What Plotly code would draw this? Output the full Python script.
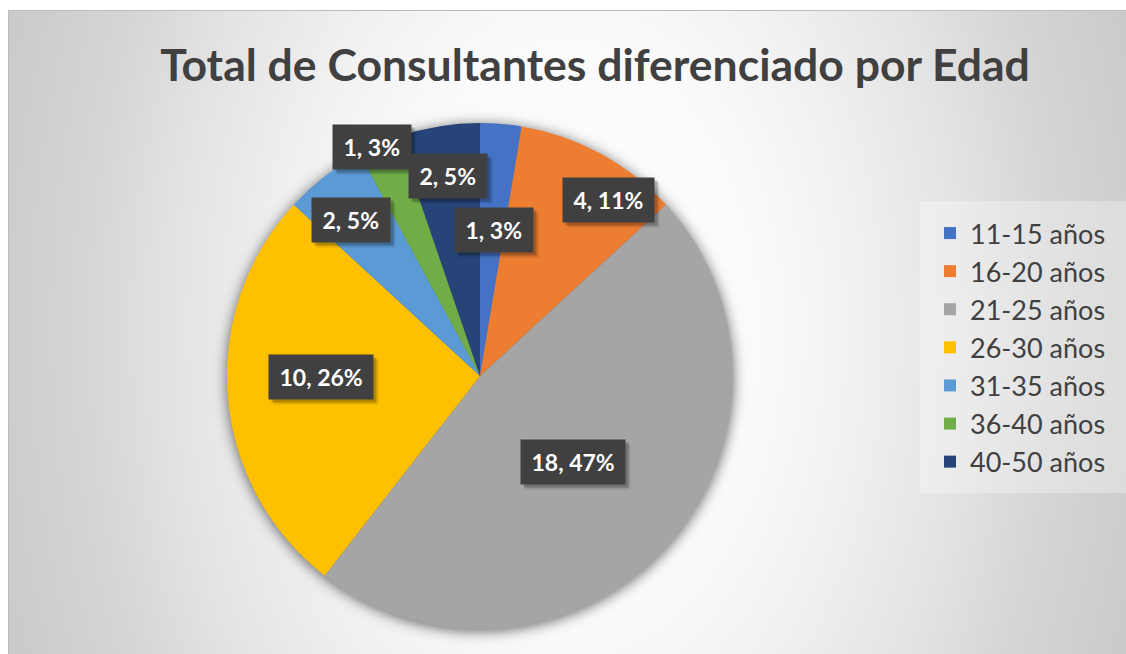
import base64
import math
import plotly.graph_objects as go

# ---------------- data ----------------
categories = ["11-15 años", "16-20 años", "21-25 años", "26-30 años",
              "31-35 años", "36-40 años", "40-50 años"]
counts = [1, 4, 18, 10, 2, 1, 2]
title_text = "Total de Consultantes diferenciado por Edad"

# ---------------- style ----------------
colors = ["#4472C4", "#ED7D31", "#A5A5A5", "#FFC000",
          "#5B9BD5", "#70AD47", "#264478"]
# data-label placement: fraction of radius and angular nudge (deg) from slice middle
label_radius = [0.58, 0.86, 0.50, 0.63, 0.80, 1.00, 0.80]
label_nudge = [0.8, 7.8, 0.2, 4.3, -1.8, -1.5, 0.5]

W, H = 1126, 654          # figure size = browser window (page margin removed)
CX, CY, R = 480, 376, 253 # pie centre / radius in pixels
TEXT = "#404040"
LBL_SIZE = 23


def xp(px):
    return px / W


def yp(py):
    return 1 - py / H


def text_width(s, size):
    em = {",": 0.25, " ": 0.2, "%": 0.85}
    return sum(em.get(ch, 0.58) for ch in s) * size


# ---------------- background (radial gradient, border, pie shadow, legend box) ----------------
gx, gy, grx, gry = 570, 330, 650, 1000
stops = [(0.0, 255), (0.3, 250), (0.45, 240), (0.6, 228),
         (0.75, 213), (0.9, 203), (1.0, 198)]
stop_xml = "".join(
    f'<stop offset="{o}" stop-color="rgb({c},{c},{c})"/>' for o, c in stops)
svg = f'''<svg xmlns="http://www.w3.org/2000/svg" width="{W}" height="{H}" viewBox="0 0 {W} {H}">
<defs>
<radialGradient id="bg" gradientUnits="userSpaceOnUse" cx="{gx}" cy="{gy}" r="{grx}"
 gradientTransform="translate({gx} {gy}) scale(1 {gry/grx:.4f}) translate({-gx} {-gy})">{stop_xml}</radialGradient>
<filter id="sh" x="-30%" y="-30%" width="160%" height="160%"><feGaussianBlur stdDeviation="7"/></filter>
</defs>
<rect x="0" y="0" width="{W}" height="{H}" fill="#ffffff"/>
<rect x="8.5" y="10.5" width="{W + 10}" height="{H + 10}" fill="url(#bg)" stroke="#bdbdbd" stroke-width="1"/>
<circle cx="{CX}" cy="{CY + 2}" r="{R}" fill="#000000" fill-opacity="0.6" filter="url(#sh)"/>
<rect x="920" y="201" width="{W}" height="292" fill="#ffffff" fill-opacity="0.3"/>
</svg>'''
bg_src = "data:image/svg+xml;base64," + base64.b64encode(svg.encode("utf-8")).decode("ascii")

# ---------------- figure ----------------
fig = go.Figure()
fig.add_trace(go.Pie(
    labels=categories,
    values=counts,
    sort=False,
    direction="clockwise",
    rotation=0,
    marker=dict(colors=colors, line=dict(width=0)),
    textinfo="none",
    hovertemplate="%{label}: %{value} (%{percent})<extra></extra>",
    domain=dict(x=[xp(CX - R), xp(CX + R)],
                y=[yp(CY + R), yp(CY - R)]),
))

# data labels (boxes with soft shadow)
annotations = []
total = sum(counts)
cum = 0
for i, v in enumerate(counts):
    mid = (cum + v / 2) / total * 360
    cum += v
    th = math.radians(mid + label_nudge[i])
    r = label_radius[i] * R
    px = CX + r * math.sin(th)
    py = CY - r * math.cos(th)
    txt = f"{v}, {round(100 * v / total)}%"
    bw = text_width(txt, LBL_SIZE) + 5
    for shift, alpha in [(5, 0.10), (3, 0.22)]:
        annotations.append(dict(
            x=xp(px), y=yp(py), xref="paper", yref="paper",
            text="\u00a0", showarrow=False, xanchor="center", yanchor="middle",
            width=bw,
            font=dict(family="Lato", size=LBL_SIZE, color="rgba(0,0,0,0)", weight="bold"),
            bgcolor=f"rgba(0,0,0,{alpha})", borderpad=8,
            xshift=shift, yshift=-shift))
    annotations.append(dict(
        x=xp(px), y=yp(py), xref="paper", yref="paper",
        text=txt, showarrow=False, xanchor="center", yanchor="middle",
        width=bw, align="center",
        font=dict(family="Lato", size=LBL_SIZE, color="#ffffff", weight="bold"),
        bgcolor="#404040", borderpad=8))

fig.update_layout(
    width=W, height=H,
    margin=dict(l=0, r=0, t=0, b=0),
    paper_bgcolor="#ffffff",
    images=[dict(source=bg_src, xref="paper", yref="paper", x=0, y=1,
                 sizex=1, sizey=1, xanchor="left", yanchor="top",
                 sizing="stretch", layer="below")],
    title=dict(text=title_text, x=xp(595), xanchor="center",
               y=yp(65.5), yanchor="middle",
               font=dict(family="Lato", size=44.5, color=TEXT, weight="bold")),
    showlegend=True,
    legend=dict(x=xp(930), xanchor="left", y=yp(209), yanchor="top",
                bgcolor="rgba(0,0,0,0)", borderwidth=0,
                font=dict(family="Lato", size=27, color=TEXT)),
    annotations=annotations,
)

fig.write_html(
    "out.html",
    config={"displayModeBar": False},
    post_script="document.body.style.margin='0';document.body.style.overflow='hidden';",
)
